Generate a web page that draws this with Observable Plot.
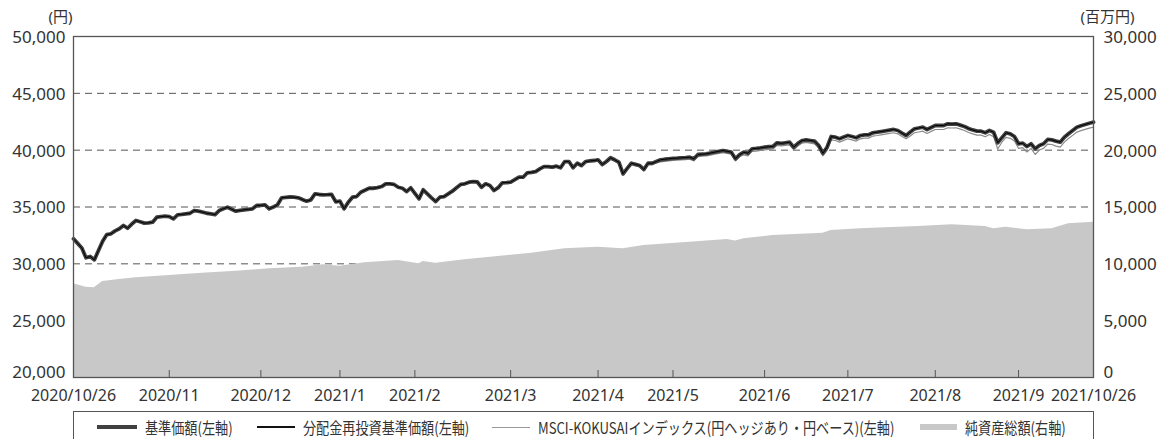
<!DOCTYPE html>
<html><head><meta charset="utf-8">
<script src="https://cdn.jsdelivr.net/npm/d3@7"></script>
<script src="https://cdn.jsdelivr.net/npm/@observablehq/plot@0.6"></script>
<style>
body{margin:0;background:#fff;font-family:"Noto Sans","Noto Sans CJK JP",sans-serif;}
#chart{width:1173px;}
#legend{position:relative;width:1173px;height:31px;}
#legend .box{position:absolute;left:73px;top:3px;width:1021px;height:40px;border:1px solid #555;box-sizing:border-box;}
#legend .sw{position:absolute;}
#legend .tx{position:absolute;top:10px;font-size:16px;line-height:18px;transform:scaleX(.82);transform-origin:left center;white-space:nowrap;color:#333;font-family:"Noto Sans CJK JP",sans-serif;}
</style>
</head><body>
<div id="chart"></div>
<div id="legend">
  <div class="box"></div>
  <div class="sw" style="left:97px;top:17px;width:40px;height:4px;background:#404040"></div>
  <div class="tx" style="left:145px">基準価額(左軸)</div>
  <div class="sw" style="left:257px;top:18px;width:38px;height:1.5px;background:#111"></div>
  <div class="tx" style="left:303px">分配金再投資基準価額(左軸)</div>
  <div class="sw" style="left:492px;top:18.5px;width:38px;height:1px;background:#999"></div>
  <div class="tx" style="left:538px">MSCI-KOKUSAIインデックス(円ヘッジあり・円ベース)(左軸)</div>
  <div class="sw" style="left:920px;top:16px;width:37px;height:6px;background:#c8c8c8"></div>
  <div class="tx" style="left:965px">純資産総額(右軸)</div>
</div>
<script>
// x = trading-day index (0 = 2020/10/26 ... 245 = 2021/10/26)
const navValues = [
32200,31800,31400,30530,30650,30350,31170,31990,32580,32640,
32900,33080,33370,33130,33500,33810,33700,33580,33600,33660,
34100,34150,34200,34160,33960,34310,34350,34400,34450,34690,
34630,34550,34450,34400,34340,34690,34850,34980,34800,34630,
34700,34750,34800,34840,35130,35150,35190,34840,35000,35190,
35810,35850,35880,35860,35810,35650,35510,35630,36160,36100,
36070,36080,36100,35450,35510,34840,35420,35860,35920,36300,
36480,36650,36650,36700,36800,37040,37040,36980,36740,36650,
36360,36690,36200,35720,36510,36160,35800,35480,35860,35920,
36150,36390,36700,36980,37040,37180,37240,37200,36740,37040,
36900,36450,36700,37130,37150,37180,37400,37620,37620,38010,
38050,38120,38350,38560,38550,38500,38590,38450,39000,39000,
38450,38850,38650,39000,39050,39090,39150,38740,39000,39330,
39150,38940,37920,38400,38850,38750,38650,38300,38850,38850,
39000,39150,39200,39240,39280,39300,39330,39350,39380,39240,
39620,39650,39680,39750,39820,39900,39970,39900,39820,39240,
39600,39820,39730,40120,40150,40200,40260,40300,40320,40650,
40600,40650,40700,40260,40600,40850,40910,40850,40790,40410,
39730,40260,41200,41140,41000,41150,41290,41200,41090,41290,
41350,41350,41530,41580,41640,41700,41760,41820,41730,41500,
41290,41600,41880,41950,42020,41820,42000,42170,42170,42170,
42320,42300,42320,42200,42080,41900,41780,41670,41670,41530,
41730,41580,40650,41100,41530,41440,41200,40560,40620,40320,
40560,40120,40410,40560,40940,40900,40790,40700,41140,41450,
41730,42020,42150,42260,42370,42460];
// no distributions paid: reinvested NAV equals NAV
const reinvestedValues = navValues.slice();
const msciValues = [
32200,31800,31400,30530,30650,30350,31170,31990,32580,32640,
32900,33080,33370,33130,33500,33810,33700,33580,33600,33660,
34100,34150,34200,34160,33960,34310,34350,34400,34450,34690,
34630,34550,34450,34400,34340,34690,34850,34980,34800,34630,
34700,34750,34800,34840,35130,35150,35190,34840,35000,35190,
35810,35850,35880,35860,35810,35650,35510,35630,36160,36100,
36070,36080,36100,35450,35510,34840,35420,35860,35920,36300,
36480,36650,36650,36700,36800,37040,37040,36980,36740,36650,
36360,36690,36200,35720,36510,36160,35800,35480,35860,35920,
36150,36390,36700,36980,37040,37180,37210,37170,36710,37010,
36870,36420,36670,37100,37120,37150,37370,37590,37590,37980,
38020,38040,38270,38480,38470,38420,38510,38370,38920,38920,
38370,38770,38570,38920,38970,39010,39020,38610,38870,39200,
39020,38810,37790,38270,38720,38620,38520,38170,38720,38720,
38870,38970,39020,39060,39100,39120,39150,39170,39200,39060,
39440,39470,39500,39570,39640,39720,39790,39720,39640,39060,
39420,39590,39500,39890,39920,39970,40030,40070,40090,40420,
40370,40420,40470,40030,40370,40620,40680,40620,40560,40180,
39500,39970,40910,40850,40710,40860,41000,40910,40800,41000,
41060,41060,41240,41290,41350,41410,41470,41530,41440,41210,
41000,41250,41530,41600,41670,41470,41650,41820,41820,41820,
41970,41950,41970,41850,41730,41550,41430,41320,41320,41180,
41380,41180,40100,40700,41130,41040,40800,40160,40220,39840,
40160,39620,40010,40160,40540,40500,40360,40270,40710,41020,
41300,41590,41720,41830,41940,42030];
// net assets (million yen), read at these trading-day indices
const assetDays = [0,3,5,7,11,15,23,31,39,47,55,60,64,70,78,83,84,87,94,102,110,118,126,132,137,148,157,159,161,168,180,182,189,195,203,211,219,221,224,229,235,239,245];
const assetValues = [8240,7950,7890,8450,8620,8770,8970,9180,9350,9560,9700,9910,9790,10090,10290,10000,10200,10060,10350,10650,10940,11320,11460,11320,11610,11900,12150,12000,12200,12490,12690,12930,13080,13170,13280,13430,13280,13080,13220,12990,13080,13520,13660];

const tickDays = [0,23,45,64,82,105,126,144,166,186,207,227,245];
const tickLabels = ["2020/10/26","2020/11","2020/12","2021/1","2021/2","2021/3","2021/4","2021/5","2021/6","2021/7","2021/8","2021/9","2021/10/26"];
const leftTicks = [20000,25000,30000,35000,40000,45000,50000];
const rightTicks = [0,5000,10000,15000,20000,25000,30000];
const gridTicks = [25000,30000,35000,40000,45000];
const rightBase = 20000; // right axis 0 aligns with left axis 20,000

const lineData = navValues.map((v, i) => ({day: i, nav: v, reinvest: reinvestedValues[i], msci: msciValues[i]}));
const areaData = assetDays.map((d, i) => ({day: d, v: assetValues[i] + rightBase}));
const fmt = d3.format(",");
const leftUpper = leftTicks.slice(1), leftBottom = leftTicks.slice(0, 1);
const rightUpper = rightTicks.slice(1).map(t => t + rightBase), rightBottom = rightTicks.slice(0, 1).map(t => t + rightBase);

const chart = Plot.plot({
  width: 1173, height: 408,
  marginTop: 36, marginBottom: 31, marginLeft: 73, marginRight: 80,
  x: {domain: [0, 245]},
  y: {domain: [20000, 50000]},
  style: {fontFamily: '"Noto Sans","Noto Sans CJK JP",sans-serif', fontSize: "16px", color: "#333", background: "#fff"},
  marks: [
    Plot.ruleY(gridTicks, {stroke: "#555", strokeWidth: 1, strokeDasharray: "7,5"}),
    Plot.areaY(areaData, {x: "day", y1: rightBase, y2: "v", fill: "#c8c8c8"}),
    Plot.lineY(lineData, {x: "day", y: "msci", stroke: "#8c8c8c", strokeWidth: 1.2}),
    Plot.lineY(lineData, {x: "day", y: "nav", stroke: "#404040", strokeWidth: 3.8, strokeLinejoin: "round"}),
    Plot.lineY(lineData, {x: "day", y: "reinvest", stroke: "#000", strokeWidth: 1}),
    Plot.frame({stroke: "#555", strokeWidth: 1.3}),
    Plot.axisX({ticks: tickDays, tickSize: -7, tickFormat: () => "", stroke: "#555", label: null}),
    Plot.axisX({ticks: tickDays, tickSize: 0, tickPadding: 12, tickFormat: d => tickLabels[tickDays.indexOf(d)], fontSize: 16, label: null}),
    Plot.axisY({ticks: leftUpper, anchor: "left", tickSize: 0, tickPadding: 8, tickFormat: fmt, fontSize: 17, dy: 1, label: null}),
    Plot.axisY({ticks: leftBottom, anchor: "left", tickSize: 0, tickPadding: 8, tickFormat: fmt, fontSize: 17, dy: -5, label: null}),
    Plot.axisY({ticks: rightUpper, anchor: "right", tickSize: 0, tickPadding: 10, tickFormat: d => fmt(d - rightBase), fontSize: 17, dy: 1, label: null}),
    Plot.axisY({ticks: rightBottom, anchor: "right", tickSize: 0, tickPadding: 10, tickFormat: d => fmt(d - rightBase), fontSize: 17, dy: -5, label: null}),
    Plot.text(["(円)"], {frameAnchor: "top-left", dx: -25, dy: -25, fontSize: 15, fill: "#333"}),
    Plot.text(["(百万円)"], {frameAnchor: "top-right", dx: 41, dy: -25, fontSize: 15, fill: "#333"})
  ]
});
document.getElementById("chart").appendChild(chart);
</script>
</body></html>
